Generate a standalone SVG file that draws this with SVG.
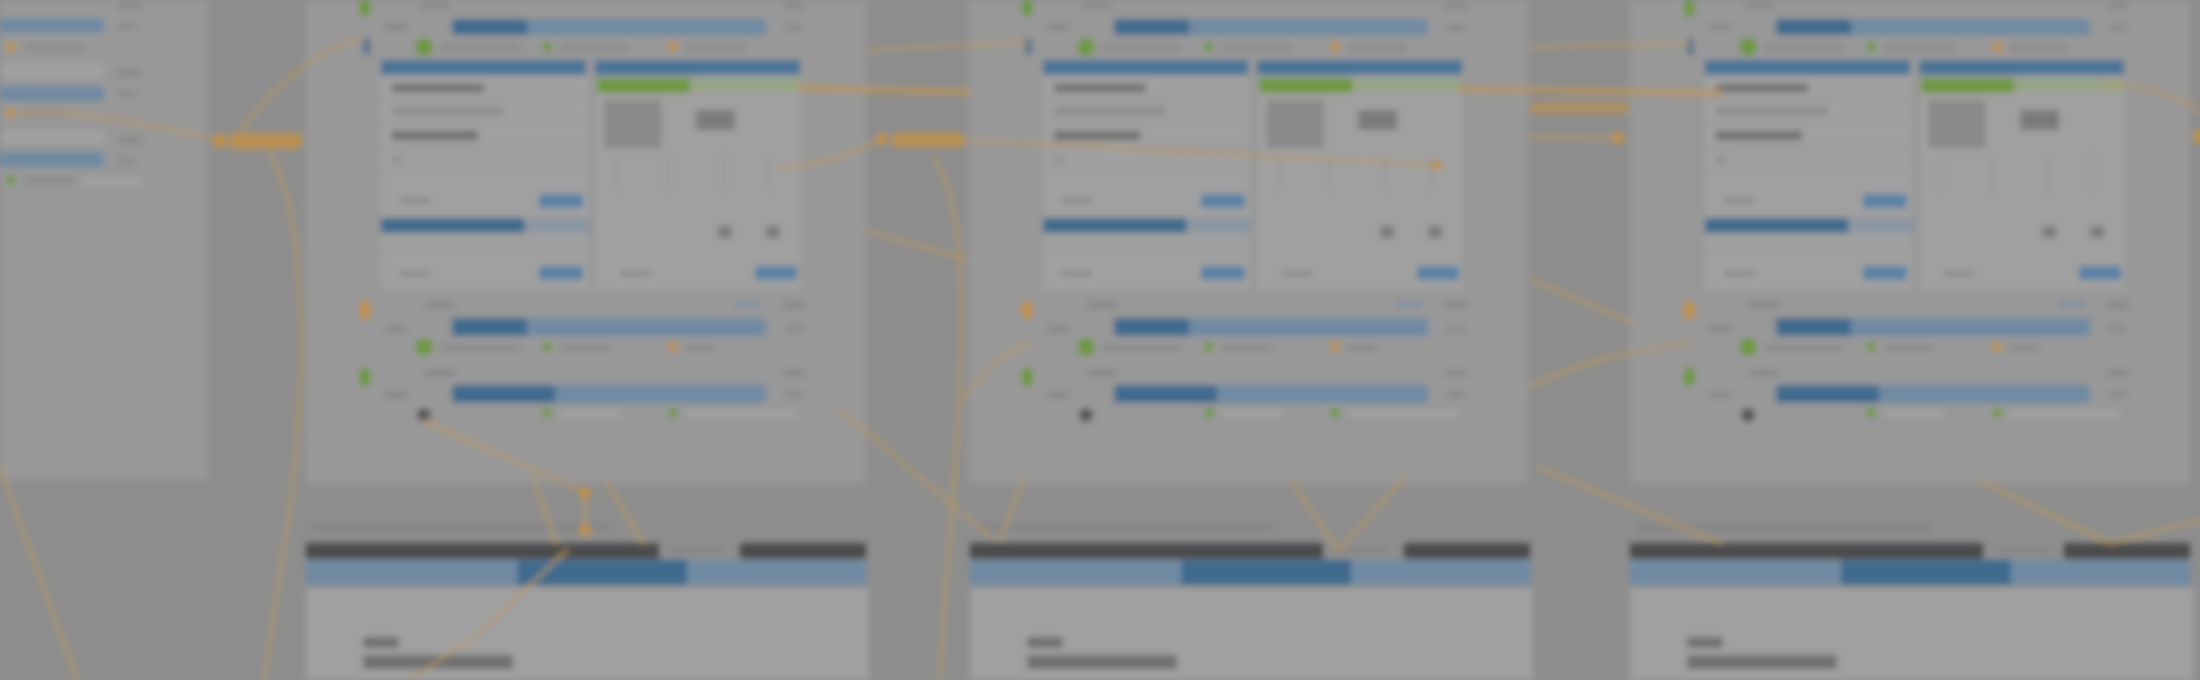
<svg xmlns="http://www.w3.org/2000/svg" xmlns:xlink="http://www.w3.org/1999/xlink" width="2200" height="680" viewBox="0 0 2200 680">
<defs>
<style>
.pn{fill:#989898}
.ct{fill:#a0a0a0}
.tx{fill:#878787}
.tl{fill:#a6a6a6}
.td{fill:#6f6f6f}
.bd{fill:#3f6a8e}
.bl{fill:#6f8aa2}
.bh{fill:#4a7397}
.bb{fill:#5a82a5}
.gr{fill:#6e9840}
.gl{fill:#94a582}
.or{fill:#bf9148}
.dk{fill:#4b4b4b}
.ln{fill:none;stroke:#b5965f;stroke-width:2.6;stroke-linecap:round}
.lb{fill:none;stroke:#b9945a;stroke-width:6;stroke-linecap:round;opacity:0.85}
.dv{stroke:#8d8d8d;stroke-width:1.5;fill:none}
</style>
<filter id="blur" x="-2%" y="-2%" width="104%" height="104%"><feGaussianBlur stdDeviation="3.4"/></filter>
<g id="screenTpl">
 <rect class="pn" x="306" y="0" width="560" height="483"/>
 <ellipse class="gr" cx="365" cy="8" rx="6" ry="9"/>
 <rect class="tx" x="420" y="3" width="30" height="6"/>
 <rect class="tx" x="783" y="3" width="22" height="6"/>
 <rect class="tx" x="385" y="24" width="22" height="6"/>
 <rect class="bl" x="452" y="19" width="314" height="16" rx="3"/>
 <rect class="bd" x="452" y="19" width="75" height="16" rx="3"/>
 <rect class="tx" x="785" y="25" width="18" height="5"/>
 <rect fill="#56718a" x="363" y="38" width="7" height="17" rx="2"/>
 <circle class="gr" cx="424" cy="47" r="9"/>
 <rect class="tx" x="440" y="45" width="80" height="5"/>
 <circle class="gr" cx="547" cy="47" r="5"/>
 <rect class="tx" x="560" y="45" width="70" height="5"/>
 <circle class="or" cx="673" cy="47" r="5"/>
 <rect class="tx" x="685" y="45" width="60" height="5"/>
 <rect class="bh" x="381" y="60" width="205" height="15"/>
 <rect class="bh" x="595" y="60" width="205" height="15"/>
 <rect class="ct" x="381" y="75" width="208" height="215"/>
 <rect class="td" x="392" y="84" width="92" height="8"/>
 <rect class="tx" x="392" y="108" width="112" height="6"/>
 <rect class="td" x="392" y="131" width="86" height="9"/>
 <rect class="tx" x="392" y="157" width="10" height="5"/>
 <path class="dv" d="M385 99H585M385 122H585M385 148H585M385 170H585M385 250H585"/>
 <rect class="tx" x="400" y="198" width="30" height="5"/>
 <rect class="bb" x="539" y="194" width="44" height="14" rx="2"/>
 <rect class="bd" x="381" y="218" width="144" height="15"/>
 <rect fill="#8b97a2" x="527" y="218" width="62" height="15"/>
 <rect class="tx" x="400" y="271" width="30" height="5"/>
 <rect class="bb" x="539" y="266" width="44" height="14" rx="2"/>
 <rect class="ct" x="595" y="75" width="205" height="215"/>
 <rect class="gr" x="597" y="78" width="93" height="15"/>
 <rect class="gl" x="690" y="80" width="110" height="11"/>
 <rect fill="#8a8a8a" x="604" y="100" width="58" height="48"/>
 <rect fill="#7a7a7a" x="696" y="110" width="39" height="20"/>
 <path class="dv" d="M617 153V193M668 153V193M724 153V193M769 153V193M591 75V290"/>
 <rect fill="#7a7a7a" x="718" y="226" width="14" height="12"/>
 <rect fill="#7a7a7a" x="766" y="226" width="14" height="12"/>
 <rect class="tx" x="620" y="271" width="30" height="5"/>
 <rect class="bb" x="755" y="266" width="42" height="14" rx="2"/>
 <ellipse class="or" cx="365" cy="310" rx="6" ry="10"/>
 <rect class="tx" x="425" y="302" width="30" height="6"/>
 <rect fill="#7d90a3" x="735" y="302" width="25" height="5"/>
 <rect class="tx" x="783" y="302" width="22" height="6"/>
 <rect class="tx" x="385" y="326" width="22" height="6"/>
 <rect class="bl" x="452" y="318" width="314" height="18" rx="3"/>
 <rect class="bd" x="452" y="318" width="75" height="18" rx="3"/>
 <rect class="tx" x="785" y="326" width="18" height="5"/>
 <circle class="gr" cx="424" cy="347" r="9"/>
 <rect class="tx" x="440" y="345" width="80" height="5"/>
 <circle class="gr" cx="547" cy="347" r="5"/>
 <rect class="tx" x="560" y="345" width="50" height="5"/>
 <circle class="or" cx="673" cy="347" r="5"/>
 <rect class="tx" x="685" y="345" width="30" height="5"/>
 <ellipse class="gr" cx="365" cy="377" rx="6" ry="10"/>
 <rect class="tx" x="425" y="370" width="30" height="6"/>
 <rect class="tx" x="783" y="370" width="22" height="6"/>
 <rect class="tx" x="385" y="392" width="22" height="6"/>
 <rect class="bl" x="452" y="385" width="314" height="18" rx="3"/>
 <rect class="bd" x="452" y="385" width="103" height="18" rx="3"/>
 <rect class="tx" x="785" y="392" width="18" height="5"/>
 <circle fill="#555" cx="424" cy="415" r="7"/>
 <circle class="gr" cx="547" cy="413" r="5"/>
 <rect class="tl" x="560" y="411" width="60" height="5"/>
 <circle class="gr" cx="673" cy="413" r="5"/>
 <rect class="tl" x="686" y="411" width="110" height="5"/>
</g>
<g id="bottomTpl">
 <rect class="tx" x="312" y="523" width="296" height="9"/>
 <rect class="dk" x="306" y="543" width="353" height="16"/>
 <rect class="tx" x="670" y="547" width="55" height="7"/>
 <rect class="dk" x="740" y="543" width="126" height="16"/>
 <rect class="bl" x="306" y="560" width="560" height="25"/>
 <rect class="bd" x="517" y="560" width="170" height="25"/>
 <rect class="ct" x="306" y="588" width="563" height="92"/>
 <rect class="td" x="363" y="637" width="36" height="11"/>
 <rect class="td" x="363" y="655" width="150" height="14"/>
</g>
</defs>
<rect x="0" y="0" width="2200" height="680" fill="#8e8e8e"/>
<g filter="url(#blur)">
 <g id="panelA">
  <rect class="pn" x="0" y="0" width="207" height="480"/>
  <rect class="tx" x="118" y="3" width="24" height="6"/>
  <rect class="bl" x="0" y="18" width="104" height="15" rx="3"/>
  <rect class="tx" x="118" y="24" width="18" height="5"/>
  <circle class="or" cx="11" cy="47" r="5"/>
  <rect class="tx" x="24" y="45" width="60" height="5"/>
  <rect class="ct" x="0" y="64" width="104" height="14"/>
  <rect class="tx" x="118" y="70" width="24" height="6"/>
  <rect class="bl" x="0" y="86" width="104" height="15" rx="3"/>
  <rect class="tx" x="118" y="91" width="18" height="5"/>
  <circle class="or" cx="11" cy="113" r="5"/>
  <rect class="tx" x="24" y="111" width="40" height="5"/>
  <rect class="ct" x="0" y="130" width="104" height="14"/>
  <rect class="tx" x="118" y="137" width="24" height="6"/>
  <rect class="bl" x="0" y="152" width="104" height="15" rx="3"/>
  <rect class="tx" x="118" y="158" width="18" height="5"/>
  <circle class="gr" cx="11" cy="180" r="5"/>
  <rect class="tx" x="24" y="178" width="50" height="5"/>
  <rect class="tl" x="84" y="178" width="56" height="6"/>
 </g>
 <use id="screenB" xlink:href="#screenTpl" href="#screenTpl"/>
 <use id="screenC" xlink:href="#screenTpl" href="#screenTpl" x="662"/>
 <use id="screenD" xlink:href="#screenTpl" href="#screenTpl" x="1324"/>
 <use id="bottomB" xlink:href="#bottomTpl" href="#bottomTpl"/>
 <use id="bottomC" xlink:href="#bottomTpl" href="#bottomTpl" x="664"/>
 <use id="bottomD" xlink:href="#bottomTpl" href="#bottomTpl" x="1324"/>
 <g id="connectors">
  <path class="ln" d="M20 113C80 110 150 125 213 138"/>
  <path class="ln" d="M241 130C270 90 320 45 362 40"/>
  <path class="ln" d="M270 153C295 200 302 260 300 380S272 600 265 680"/>
  <path class="ln" d="M0 467L77 680"/>
  <path class="ln" d="M424 420C460 440 540 470 580 490"/>
  <path class="ln" d="M585 493V530"/>
  <path class="ln" d="M533 477L556 543"/>
  <path class="ln" d="M608 484L643 543"/>
  <path class="ln" d="M567 550L480 633L410 680"/>
  <path class="ln" d="M870 50L1027 42"/>
  <path class="lb" d="M800 88L968 92"/>
  <path class="ln" d="M777 168C820 165 850 155 876 142"/>
  <path class="ln" d="M964 140L1437 165"/>
  <path class="ln" d="M934 157C960 200 962 260 960 367S945 560 940 680"/>
  <path class="ln" d="M869 231L968 260"/>
  <path class="ln" d="M962 400C985 370 1005 350 1029 343"/>
  <path class="ln" d="M840 410L991 537"/>
  <path class="ln" d="M1024 477L1000 540"/>
  <path class="ln" d="M1290 480L1339 550L1406 476"/>
  <path class="ln" d="M1530 47L1690 43"/>
  <path class="lb" d="M1462 89L1720 93"/>
  <path class="ln" d="M1530 137L1618 138"/>
  <path class="ln" d="M1533 280L1633 323"/>
  <path class="ln" d="M1529 387C1570 365 1640 348 1689 343"/>
  <path class="ln" d="M1538 467L1720 543"/>
  <path class="ln" d="M1978 480L2110 543L2200 520"/>
  <path class="ln" d="M2107 84C2150 86 2180 95 2200 112"/>
 </g>
 <g id="labels">
  <circle class="or" cx="220" cy="141" r="7"/>
  <rect class="or" x="230" y="133" width="72" height="16" rx="4" opacity="0.85"/>
  <circle class="or" cx="882" cy="139" r="6"/>
  <rect class="or" x="892" y="133" width="72" height="14" rx="4" opacity="0.85"/>
  <rect class="or" x="1530" y="102" width="100" height="12" rx="4" opacity="0.6"/>
  <circle class="or" cx="1618" cy="138" r="6"/>
  <circle class="or" cx="1437" cy="165" r="5"/>
  <circle class="or" cx="585" cy="493" r="6"/>
  <circle class="or" cx="585" cy="530" r="6"/>
  <circle class="or" cx="2200" cy="137" r="7"/>
 </g>
</g>
</svg>
